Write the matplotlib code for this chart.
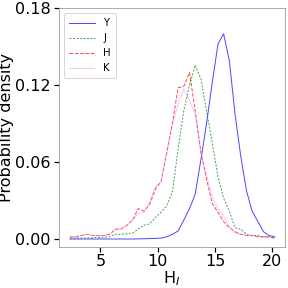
import numpy as np
import matplotlib
matplotlib.use("Agg")
import matplotlib.pyplot as plt

# bin centres (H_I)
h_bins = [2.35, 2.85, 3.34, 3.84, 4.33, 4.83, 5.33, 5.82, 6.32, 6.81,
          7.31, 7.81, 8.30, 8.80, 9.29, 9.79, 10.29, 10.78, 11.28, 11.77,
          12.27, 12.77, 13.26, 13.76, 14.25, 14.75, 15.25, 15.74, 16.24, 16.73,
          17.23, 17.73, 18.22, 18.72, 19.21, 19.71, 20.20]

dens_Y = [0.0003, 0.0003, 0.0003, 0.0003, 0.0003, 0.0003, 0.0003, 0.0003, 0.0003, 0.0003,
          0.0003, 0.0003, 0.0004, 0.0005, 0.0006, 0.0008, 0.001, 0.002, 0.004, 0.0065,
          0.015, 0.024, 0.035, 0.062, 0.090, 0.122, 0.152, 0.160, 0.139, 0.098,
          0.065, 0.038, 0.022, 0.014, 0.006, 0.003, 0.002]

dens_J = [0.001, 0.001, 0.001, 0.0012, 0.0012, 0.0015, 0.0016, 0.002, 0.004, 0.004,
          0.0044, 0.005, 0.008, 0.011, 0.012, 0.017, 0.021, 0.026, 0.037, 0.070,
          0.100, 0.120, 0.1355, 0.125, 0.100, 0.075, 0.049, 0.032, 0.022, 0.009,
          0.008, 0.004, 0.003, 0.003, 0.002, 0.002, 0.001]

dens_H = [0.002, 0.002, 0.003, 0.004, 0.003, 0.003, 0.003, 0.004, 0.008, 0.008,
          0.011, 0.015, 0.024, 0.022, 0.027, 0.039, 0.045, 0.067, 0.090, 0.118,
          0.119, 0.130, 0.100, 0.068, 0.047, 0.028, 0.021, 0.014, 0.009, 0.006,
          0.004, 0.003, 0.003, 0.002, 0.002, 0.002, 0.001]

dens_K = [0.002, 0.002, 0.003, 0.004, 0.003, 0.003, 0.003, 0.004, 0.008, 0.008,
          0.011, 0.015, 0.020, 0.021, 0.029, 0.041, 0.045, 0.068, 0.090, 0.105,
          0.117, 0.108, 0.098, 0.068, 0.050, 0.033, 0.024, 0.018, 0.010, 0.005,
          0.004, 0.003, 0.003, 0.002, 0.002, 0.002, 0.001]

fig = plt.figure(figsize=(4, 4), dpi=72)
ax = fig.add_axes([0.205, 0.142, 0.785, 0.83])

ax.plot(h_bins, dens_Y, color='blue', ls='-', lw=1, alpha=0.7, label='Y')
ax.plot(h_bins, dens_J, color='green', ls=(0, (2, 1.5)), lw=1, alpha=0.7, label='J')
ax.plot(h_bins, dens_H, color='red', ls='--', lw=1, alpha=0.7, label='H')
ax.plot(h_bins, dens_K, color='violet', ls=(0, (1, 1)), lw=1, alpha=0.9, label='K')

ax.set_xlim(1.4, 21.1)
ax.set_ylim(-0.006, 0.18)
ax.set_xticks([5, 10, 15, 20])
ax.set_yticks([0.0, 0.06, 0.12, 0.18])
ax.set_yticklabels(['0.00', '0.06', '0.12', '0.18'])
ax.tick_params(labelsize=16, length=5, width=1.2)
ax.tick_params(axis='x', pad=2)
ax.set_xlabel('H$_I$', fontsize=16, labelpad=0)
ax.set_ylabel('Probability density', fontsize=16, labelpad=1)

for s in ax.spines.values():
    s.set_color('#999999')

ax.legend(loc='upper left', fontsize=10, handlelength=2.6, borderpad=0.5,
          labelspacing=0.5)

fig.savefig('out.png', dpi=72)
